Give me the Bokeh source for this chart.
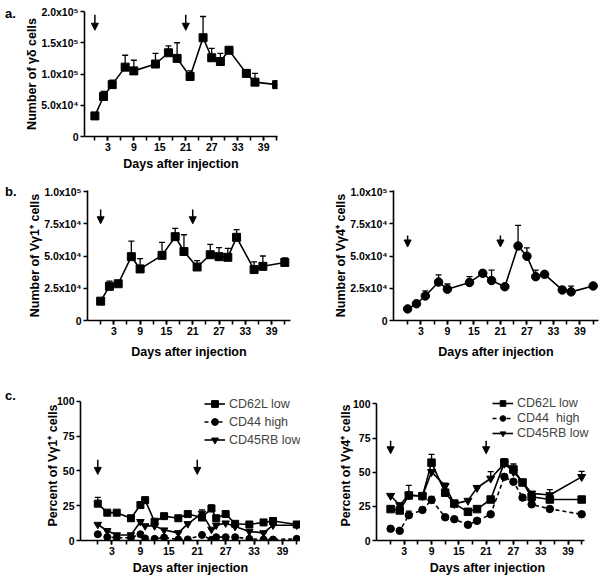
from bokeh.plotting import figure
from bokeh.layouts import column, row
from bokeh.models import (ColumnDataSource, Whisker, TeeHead, Arrow, NormalHead,
                          FixedTicker, Range1d, Legend, LegendItem, Div)
from bokeh.embed import file_html
from bokeh.resources import INLINE

# ---------------- data ----------------
days_ab = [0, 2, 4, 7, 9, 14, 17, 19, 22, 25, 27, 29, 31, 35, 37, 42]
gd_mean = [33000, 64000, 83000, 111000, 105000, 116000, 134000, 125000, 96000,
           158000, 126000, 120000, 138000, 101000, 87000, 83000]
gd_sem = [0, 8000, 7000, 19000, 17000, 17000, 11000, 25000, 9000,
          34000, 15000, 13000, 0, 4000, 14000, 0]

vg1_mean = [15000, 26500, 28500, 49500, 40000, 50500, 65000, 53500, 41500,
            51000, 49500, 49000, 64500, 39500, 42000, 45000]
vg1_sem = [0, 4000, 0, 12000, 8000, 10000, 6500, 13000, 5000,
           8000, 7000, 7000, 6000, 6000, 8000, 3500]

vg4_mean = [9000, 13000, 19000, 29800, 24300, 29500, 36600, 31000, 26200,
            57800, 49800, 34000, 35800, 23700, 22200, 26800]
vg4_sem = [0, 0, 4000, 5500, 4000, 4500, 2000, 8000, 0,
           16000, 6500, 5000, 2000, 2500, 4500, 0]

days_c1 = [0, 2, 4, 7, 9, 10, 12, 14, 17, 19, 22, 24, 25, 27, 29, 32, 35, 37, 42]
c1_cd62l = [26.5, 20, 20, 16, 25.5, 29, 13.5, 17.5, 16, 19, 16.5, 23, 16, 19, 12, 11.5, 13, 14, 11.5]
c1_cd62l_sem = [4.5, 0, 0, 0, 1, 2, 0, 0, 0, 0, 1, 2.5, 0, 0, 0, 0, 0, 0, 0]
c1_cd44 = [4.5, 2.5, 2, 2, 4.5, 1.5, 1.2, 2.2, 0.7, 0.8, 4, 0.5, 2.4, 2.4, 2.4, 1.2, 0.7, 0.7, 1.2]
c1_cd44_sem = [0] * 19
c1_cd45 = [11.5, 7, 4, 4, 13.5, 10.5, 10.5, 7.5, 5.5, 12, 19.5, 8, 11, 12.5, 10, 6.5, 5.5, 11, 11]
c1_cd45_sem = [0, 0, 0, 0, 0, 0, 0, 0, 0, 0, 2.5, 0, 0, 0, 0, 0, 0, 0, 0]

days_c4 = [0, 2, 4, 7, 9, 12, 14, 17, 19, 22, 25, 27, 29, 31, 35, 42]
c4_cd62l = [23, 22, 33, 32.5, 57, 35, 27, 21, 23, 30, 57, 52, 42.5, 32, 30, 30]
c4_cd62l_sem = [0, 0, 0, 0, 6, 0, 0, 0, 0, 0, 3, 4, 0, 0, 0, 0]
c4_cd44 = [8.6, 7.1, 18.5, 22.4, 29.7, 17, 15.6, 11.5, 14.4, 19.2, 46.6, 43, 31.4, 26.5, 23.1, 19.2]
c4_cd44_sem = [0, 0, 3, 0, 2.5, 0, 0, 0, 0, 0, 0, 0, 0, 0, 0, 0]
c4_cd45 = [32.8, 26, 33.3, 32.6, 50.2, 40, 26.8, 29.2, 38.6, 45.4, 56.3, 50.2, 43, 34.5, 33.3, 46.6]
c4_cd45_sem = [0, 0, 7, 0, 0, 2, 0, 0, 0, 5, 0, 0, 0, 0, 4, 4]

injection_days = [0, 21]

x_major = [3, 9, 15, 21, 27, 33, 39]
x_minor = [0, 3, 6, 9, 12, 15, 18, 21, 24, 27, 30, 33, 36, 39, 42]

a_yticks = [0, 50000, 100000, 150000, 200000]
a_ylabels = ["0", "5.0x10\u2074", "1.0x10\u2075", "1.5x10\u2075", "2.0x10\u2075"]
b_yticks = [0, 25000, 50000, 75000, 100000]
b_ylabels = ["0", "2.5x10\u2074", "5.0x10\u2074", "7.5x10\u2074", "1.0x10\u2075"]
c_yticks = [0, 25, 50, 75, 100]
c_ylabels = ["0", "25", "50", "75", "100"]

x_title = "Days after injection"
series_c1 = ["CD62L low", "CD44 high", "CD45RB low"]
series_c4 = ["CD62L low", "CD44  high", "CD45RB low"]
panel_letters = ["a.", "b.", "c."]

FONT = "Liberation Sans"


def make_fig(w, h, ml, mr, mt, mb, xr, yr, yticks, ylabels, ylabel,
             ystand, xstand=3, ybounds="auto", xbounds="auto"):
    p = figure(width=w, height=h, x_range=Range1d(*xr), y_range=Range1d(*yr),
               output_backend="svg", toolbar_location=None,
               min_border_left=ml, min_border_right=mr,
               min_border_top=mt, min_border_bottom=mb)
    p.outline_line_color = None
    p.grid.visible = False
    p.background_fill_color = "white"
    p.border_fill_color = "white"
    p.xaxis.ticker = FixedTicker(ticks=x_major, minor_ticks=x_minor)
    p.yaxis.ticker = FixedTicker(ticks=yticks)
    p.yaxis.major_label_overrides = {t: l for t, l in zip(yticks, ylabels)}
    for ax in (p.xaxis[0], p.yaxis[0]):
        ax.axis_line_width = 1.6
        ax.axis_line_color = "black"
        ax.major_tick_line_width = 1.6
        ax.major_tick_line_color = "black"
        ax.major_tick_out = 4
        ax.major_tick_in = 0
        ax.minor_tick_line_width = 1.6
        ax.minor_tick_line_color = "black"
        ax.minor_tick_out = 4
        ax.minor_tick_in = 0
        ax.major_label_text_font = FONT
        ax.major_label_text_font_style = "bold"
        ax.major_label_text_font_size = "10.5px"
        ax.major_label_text_color = "black"
        ax.axis_label_text_font = FONT
        ax.axis_label_text_font_style = "bold"
        ax.axis_label_text_font_size = "12.5px"
        ax.axis_label_text_color = "black"
        ax.major_label_standoff = 2
    p.xaxis.axis_label_standoff = xstand
    p.yaxis.axis_label_standoff = ystand
    p.yaxis.minor_tick_line_color = None
    p.yaxis.bounds = ybounds
    p.xaxis.bounds = xbounds
    p.yaxis.axis_label = ylabel
    p.xaxis.axis_label = x_title
    return p


def add_series(p, days, vals, sem, marker, size, dash="solid"):
    src = ColumnDataSource(dict(x=days, y=vals, up=[v + e for v, e in zip(vals, sem)]))
    p.add_layout(Whisker(source=src, base="x", upper="up", lower="y",
                         upper_head=TeeHead(size=6, line_width=1.3, line_color="black"),
                         lower_head=None, line_width=1.3, line_color="black"))
    ln = p.line("x", "y", source=src, line_color="black", line_width=1.6, line_dash=dash)
    sc = p.scatter("x", "y", source=src, marker=marker, size=size,
                   fill_color="black", line_color="black")
    return ln, sc


def add_arrows(p, top, bot):
    for d in injection_days:
        p.add_layout(Arrow(end=NormalHead(size=7, fill_color="black", line_color="black"),
                           x_start=d, y_start=top, x_end=d, y_end=bot,
                           line_width=1.5, line_color="black"))


def letter(text, h, pad_top):
    return Div(text=text, width=20, height=h, margin=(0, 0, 0, 0),
               styles={"font-family": FONT, "font-weight": "bold", "font-size": "13px",
                       "padding-top": f"{pad_top}px", "padding-left": "5px",
                       "box-sizing": "border-box", "color": "black"})


def make_legend(items, x, y, gh):
    return Legend(items=items, location=(x, y), glyph_width=21, glyph_height=gh,
                  label_height=gh, spacing=1, padding=0, margin=0, label_standoff=4,
                  label_text_font=FONT, label_text_font_size="12.5px",
                  border_line_color=None, background_fill_alpha=0)


# ---------------- panel a ----------------
pa = make_fig(280, 178, 64, 23, 11, 42, (-2.4, 42.2), (0, 200000), a_yticks, a_ylabels,
              "Number of \u03b3\u03b4 cells", ystand=-1)
add_series(pa, days_ab, gd_mean, gd_sem, "square", 8)
add_arrows(pa, 195000, 170000)

# ---------------- panel b ----------------
pb1 = make_fig(280, 190, 67, 10, 12, 48, (-3.0, 43.3), (0, 100800), b_yticks, b_ylabels,
               "Number of V\u03b31\u207a cells", ystand=-1, xstand=7)
add_series(pb1, days_ab, vg1_mean, vg1_sem, "square", 8)
add_arrows(pb1, 86000, 75000)

pb2 = make_fig(301, 190, 93, 3, 12, 48, (-3.2, 43.2), (0, 100800), b_yticks, b_ylabels,
               "Number of V\u03b34\u207a cells", ystand=-1, xstand=7)
add_series(pb2, days_ab, vg4_mean, vg4_sem, "circle", 8.5)
add_arrows(pb2, 66000, 57000)

# ---------------- panel c ----------------
pc1 = make_fig(280, 211, 60, 0, 20, 39, (-3.65, 42.8), (0, 107.8), c_yticks, c_ylabels,
               "Percent of V\u03b31\u207a cells", ystand=-6, ybounds=(0, 100))
r1 = add_series(pc1, days_c1, c1_cd62l, c1_cd62l_sem, "square", 7)
r2 = add_series(pc1, days_c1, c1_cd44, c1_cd44_sem, "circle", 7, dash="4 3")
r3 = add_series(pc1, days_c1, c1_cd45, c1_cd45_sem, "inverted_triangle", 7.5)
add_arrows(pc1, 58, 47.5)
pc1.add_layout(make_legend(
    [LegendItem(label=n, renderers=list(r)) for n, r in zip(series_c1, [r1, r2, r3])],
    124, 92, 17))

pc2 = make_fig(301, 211, 76, 3, 22, 38, (-3.1, 45.7), (0, 109.8), c_yticks, c_ylabels,
               "Percent of V\u03b34\u207a cells", ystand=-3, ybounds=(0, 100),
               xbounds=(-3.1, 42.6))
s1 = add_series(pc2, days_c4, c4_cd62l, c4_cd62l_sem, "square", 7.5)
s2 = add_series(pc2, days_c4, c4_cd44, c4_cd44_sem, "circle", 7.5, dash="4 3")
s3 = add_series(pc2, days_c4, c4_cd45, c4_cd45_sem, "inverted_triangle", 8)
add_arrows(pc2, 73, 63.5)
pc2.add_layout(make_legend(
    [LegendItem(label=n, renderers=list(r)) for n, r in zip(series_c4, [s1, s2, s3])],
    116, 100, 14))

layout = column(
    row(letter(panel_letters[0], 178, 5), pa),
    row(letter(panel_letters[1], 190, 5), pb1, pb2),
    row(letter(panel_letters[2], 211, 19), pc1, pc2),
    spacing=0)

with open("out.html", "w") as f:
    f.write(file_html(layout, INLINE))
